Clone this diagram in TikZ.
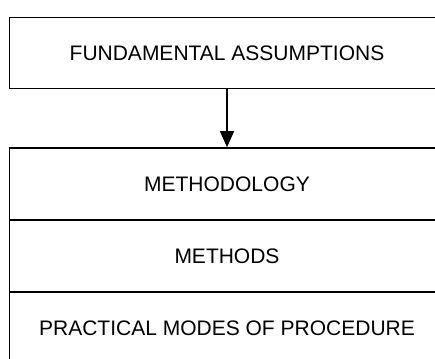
\documentclass[tikz,border=0pt]{standalone}
\usepackage{fontspec}
\setmainfont{Liberation Sans}
\usetikzlibrary{arrows.meta}
\begin{document}
\begin{tikzpicture}[x=1pt,y=1pt,
  layer/.style={draw=black, line width=1.6pt, rectangle, minimum width=435pt,
    inner sep=0pt, font=\fontsize{21}{24}\selectfont, anchor=center},
  link/.style={line width=1.5pt, -{Triangle[length=16pt,width=14pt]}}]
  \useasboundingbox (0,0) rectangle (435,358);
  \clip (0,0) rectangle (435,358);
  % assumptions box on top
  \node[layer, minimum height=71pt] (fa) at (227,305) {FUNDAMENTAL ASSUMPTIONS};
  % stacked levels below
  \node[layer, minimum height=72pt] (mg) at (227,174) {METHODOLOGY};
  \node[layer, minimum height=72pt] (ms) at (227,102) {METHODS};
  \node[layer, minimum height=72pt] (pm) at (227,30) {PRACTICAL MODES OF PROCEDURE};
  \draw[link] (fa.south) -- (mg.north);
\end{tikzpicture}
\end{document}
